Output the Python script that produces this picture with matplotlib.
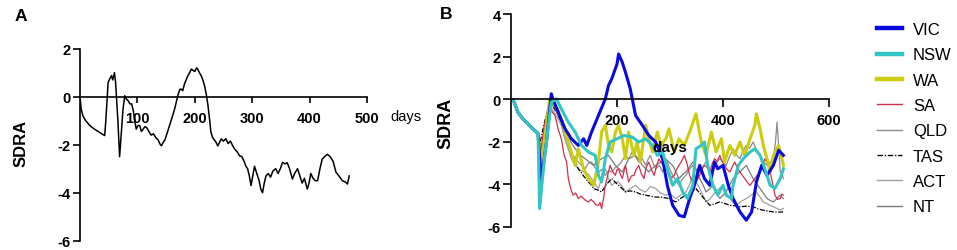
import matplotlib
matplotlib.use("Agg")
import matplotlib.pyplot as plt
from matplotlib.lines import Line2D

plt.rcParams['font.family'] = ['Liberation Sans', 'DejaVu Sans']
plt.rcParams['axes.unicode_minus'] = False

# ---------------- Panel A data ----------------
a_days = [0, 2, 5, 10, 17, 25, 35, 43, 45, 49, 52, 55, 57, 60, 62, 66, 69, 72, 75, 78, 81, 84, 87, 90,
          93, 96, 98, 101, 104, 107, 110, 113, 116, 120, 124, 128, 132, 136, 140, 142, 145, 148, 152,
          156, 160, 165, 168, 171, 174, 176, 179, 182, 185, 188, 191, 194, 197, 200, 203, 205, 208,
          211, 214, 217, 220, 223, 226, 228, 231, 234, 237, 240, 243, 246, 250, 254, 258, 262, 266,
          270, 274, 278, 282, 286, 289, 292, 295, 298, 301, 304, 308, 312, 315, 318, 321, 324, 328,
          332, 336, 341, 345, 349, 353, 357, 361, 365, 370, 374, 379, 383, 387, 391, 396, 399, 402,
          406, 410, 414, 418, 422, 426, 431, 436, 441, 446, 451, 457, 462, 466, 469]
a_vals = [0, -0.5, -0.8, -1.0, -1.2, -1.35, -1.5, -1.62, -1.0, 0.6, 0.75, 0.88, 0.7, 1.0, 0.6, -1.0,
          -2.5, -1.5, -0.5, 0.04, -0.1, -0.17, -0.3, -0.3, -0.6, -1.1, -1.35, -1.2, -1.2, -1.45,
          -1.35, -1.25, -1.28, -1.45, -1.6, -1.55, -1.7, -1.8, -2.0, -2.04, -1.9, -1.8, -1.5, -1.2,
          -0.9, -0.5, -0.2, 0.1, 0.3, 0.32, 0.25, 0.53, 0.7, 0.88, 1.0, 1.15, 1.1, 1.05, 1.2, 1.15,
          1.0, 0.88, 0.7, 0.46, 0.1, -0.37, -1.0, -1.47, -1.7, -1.8, -1.9, -2.05, -1.9, -1.76,
          -1.85, -1.75, -1.95, -1.85, -2.04, -2.2, -2.3, -2.46, -2.5, -2.7, -2.9, -3.0, -3.3, -3.7,
          -3.3, -2.9, -3.2, -3.5, -3.85, -4.0, -3.6, -3.3, -3.2, -3.35, -3.1, -3.0, -3.2, -3.0,
          -2.73, -2.8, -2.75, -3.0, -3.43, -3.2, -3.0, -3.3, -3.6, -3.4, -3.85, -3.6, -3.2, -3.4,
          -3.5, -3.5, -3.0, -2.6, -2.5, -2.4, -2.5, -2.7, -3.15, -3.3, -3.5, -3.55, -3.64, -3.3]

# ---------------- Panel B data ----------------
start_days = [0, 3, 6, 13, 22, 32, 41, 48, 51]
start_vals = [0, 0, -0.13, -0.6, -0.9, -1.14, -1.38, -1.53, -1.6]

vic_days = [57, 67, 76, 79, 89, 102, 114, 127, 137, 143, 152, 165, 178, 184, 190, 200, 203, 210, 216,
            225, 235, 248, 260, 273, 286, 295, 305, 317, 327, 337, 346, 356, 365, 375, 384, 390, 400,
            410, 419, 432, 444, 454, 463, 473, 483, 495, 505, 514]
vic_vals = [-3.8, -2.0, 0.27, 0.03, -0.6, -1.38, -1.85, -2.16, -1.85, -2.16, -1.53, -0.75, 0.03, 0.66,
            0.97, 1.67, 2.14, 1.75, 1.28, 0.5, -0.75, -1.22, -1.69, -2.0, -2.79, -4.04, -4.98, -5.45,
            -5.52, -4.66, -4.04, -3.1, -3.72, -4.04, -2.94, -3.26, -3.1, -4.04, -4.66, -5.29, -5.68,
            -5.29, -3.88, -3.1, -3.57, -3.1, -2.39, -2.63]

nsw_days = [54, 63, 76, 86, 95, 108, 121, 133, 146, 159, 165, 171, 178, 187, 200, 213, 229, 241, 254,
            267, 276, 286, 295, 305, 314, 324, 333, 343, 349, 359, 365, 371, 381, 390, 400, 406, 416,
            419, 429, 438, 451, 460, 470, 479, 489, 498, 508, 514]
nsw_vals = [-5.13, -2.79, -0.13, 0.03, -0.44, -1.06, -1.53, -2.16, -2.47, -2.63, -3.57, -3.88, -2.79,
            -2.0, -1.85, -1.69, -1.77, -2.0, -1.85, -2.16, -2.63, -2.47, -3.26, -4.04, -3.72, -4.35,
            -4.66, -4.04, -2.32, -2.16, -2.0, -3.1, -4.04, -4.5, -4.04, -4.5, -4.66, -4.04, -3.1,
            -2.79, -2.47, -2.32, -2.63, -3.26, -4.04, -4.19, -3.72, -3.26]

wa_days = [57, 73, 83, 95, 108, 121, 127, 137, 146, 156, 165, 171, 178, 184, 190, 197, 203, 210, 216,
           222, 232, 238, 244, 254, 260, 267, 276, 283, 292, 298, 308, 317, 327, 337, 349, 359, 368,
           378, 387, 397, 403, 413, 422, 432, 441, 451, 460, 463, 470, 476, 483, 489, 495, 505, 514]
wa_vals = [-3.1, 0.03, -0.28, -0.91, -2.0, -3.1, -2.32, -3.26, -3.72, -4.04, -2.94, -1.53, -1.22,
           -2.16, -2.47, -1.53, -1.22, -1.85, -2.79, -1.53, -2.63, -2.0, -2.94, -1.22, -1.85, -2.47,
           -1.53, -2.16, -1.85, -1.38, -2.47, -1.85, -2.16, -1.53, -0.67, -2.0, -2.63, -1.53, -2.47,
           -1.85, -2.94, -2.16, -2.63, -2.0, -2.63, -1.85, -1.22, -0.67, -1.38, -2.16, -2.79, -3.41,
           -2.63, -2.16, -3.1]

sa_days = [54, 63, 73, 78, 83, 89, 95, 100, 105, 108, 111, 114, 117, 122, 127, 132, 137, 141, 146,
           151, 156, 160, 165, 168, 171, 175, 178, 183, 187, 192, 197, 200, 203, 206, 210, 213, 216,
           219, 222, 227, 232, 236, 241, 246, 251, 255, 260, 265, 270, 275, 279, 284, 289, 293, 298,
           303, 308, 312, 317, 322, 327, 332, 337, 341, 346, 351, 356, 360, 365, 370, 375, 380, 384,
           389, 394, 398, 403, 408, 413, 417, 422, 427, 432, 436, 441, 446, 451, 455, 460, 465, 470,
           474, 479, 484, 489, 494, 498, 503, 508, 511, 514]
sa_vals = [-2.79, -1.2, -0.28, -0.6, -0.75, -1.4, -1.85, -2.6, -2.94, -3.7, -4.04, -4.3, -4.5, -4.4,
           -4.66, -4.55, -4.66, -4.75, -4.82, -4.7, -4.82, -4.95, -4.98, -4.85, -5.13, -4.6, -4.04,
           -3.5, -3.1, -3.4, -3.57, -3.3, -3.26, -3.5, -3.72, -3.4, -3.1, -3.5, -3.88, -3.6, -3.57,
           -3.3, -3.1, -3.5, -3.72, -3.2, -2.94, -3.3, -3.57, -3.1, -2.79, -3.0, -3.1, -3.3, -3.41,
           -3.7, -3.57, -3.3, -3.1, -2.9, -2.63, -3.0, -3.57, -3.8, -4.04, -3.8, -3.57, -3.3, -3.1,
           -3.2, -3.41, -3.0, -2.79, -2.9, -2.63, -2.9, -3.1, -3.3, -3.41, -3.2, -2.94, -3.2, -3.41,
           -3.55, -3.72, -3.9, -4.04, -3.9, -3.72, -3.55, -3.41, -3.1, -2.79, -3.0, -3.41, -4.0, -4.5,
           -4.7, -4.66, -4.45, -4.5]

qld_days = [57, 65, 73, 80, 89, 95, 102, 108, 114, 120, 127, 133, 140, 146, 152, 158, 165, 171, 178,
            184, 190, 197, 203, 209, 216, 222, 229, 235, 241, 247, 254, 258, 263, 268, 273, 280, 286,
            290, 295, 300, 305, 311, 317, 323, 330, 336, 343, 350, 356, 362, 368, 374, 381, 387, 394,
            400, 406, 412, 419, 425, 432, 438, 444, 450, 457, 463, 470, 476, 483, 489, 495, 499, 502,
            505, 508, 511, 514]
qld_vals = [-2.63, -1.5, -0.13, -0.3, -0.6, -1.2, -1.85, -2.3, -2.63, -2.7, -2.94, -3.1, -3.26, -3.0,
            -2.94, -3.2, -3.41, -3.3, -3.57, -3.35, -3.41, -3.2, -3.1, -2.9, -2.63, -2.8, -2.47, -2.7,
            -2.94, -2.75, -3.1, -2.85, -2.63, -3.0, -3.26, -3.1, -3.41, -3.15, -2.94, -3.3, -3.57,
            -3.8, -4.04, -3.75, -3.57, -3.3, -3.1, -3.3, -3.41, -3.15, -2.94, -3.2, -3.41, -3.0,
            -2.79, -2.95, -3.1, -2.7, -2.32, -2.6, -2.79, -2.4, -2.16, -2.3, -2.0, -2.35, -2.63, -2.9,
            -3.1, -2.95, -2.79, -2.0, -1.06, -2.2, -3.41, -3.5, -3.72]

tas_days = [51, 62, 73, 81, 89, 95, 102, 108, 114, 121, 127, 137, 146, 151, 156, 163, 171, 180, 190,
            197, 203, 210, 216, 225, 235, 244, 254, 263, 273, 285, 298, 305, 311, 320, 330, 340, 349,
            354, 359, 367, 375, 385, 394, 404, 413, 422, 432, 444, 457, 466, 476, 485, 495, 505, 514]
tas_vals = [-2.47, -1.2, -0.13, -0.4, -0.75, -1.1, -1.53, -2.0, -2.47, -2.9, -3.26, -3.6, -3.88, -4.0,
            -4.19, -4.25, -4.35, -4.0, -3.72, -3.9, -4.04, -4.2, -4.35, -4.3, -4.35, -4.45, -4.5,
            -4.55, -4.59, -4.6, -4.66, -4.75, -4.82, -4.65, -4.5, -4.35, -4.19, -4.35, -4.5, -4.75,
            -4.98, -4.9, -4.82, -4.9, -4.98, -5.0, -5.05, -5.02, -5.05, -5.15, -5.21, -5.25, -5.29,
            -5.3, -5.29]

act_days = [54, 63, 73, 84, 95, 101, 108, 114, 121, 129, 137, 145, 152, 158, 165, 171, 178, 184, 190,
            197, 203, 210, 216, 225, 235, 244, 254, 263, 273, 282, 292, 301, 311, 320, 330, 337, 343,
            350, 356, 362, 368, 375, 381, 390, 400, 406, 413, 419, 425, 434, 444, 453, 463, 470, 476,
            483, 489, 495, 502, 508, 514]
act_vals = [-2.94, -1.5, -0.28, -0.7, -1.22, -1.8, -2.32, -2.8, -3.1, -3.3, -3.41, -3.5, -3.72, -3.95,
            -4.19, -3.7, -3.26, -3.7, -4.04, -3.9, -3.88, -4.1, -4.35, -4.2, -4.04, -4.25, -4.35, -4.1,
            -4.19, -4.4, -4.5, -4.45, -4.66, -4.5, -4.35, -4.0, -3.57, -3.9, -4.19, -4.5, -4.82, -4.7,
            -4.5, -4.25, -4.04, -4.4, -4.66, -4.85, -4.98, -4.8, -4.66, -4.5, -4.35, -4.6, -4.82,
            -4.9, -4.98, -5.05, -5.13, -5.2, -5.13]

nt_days = [57, 65, 73, 81, 89, 97, 105, 113, 121, 130, 140, 148, 156, 163, 171, 178, 184, 190, 197,
           203, 210, 216, 222, 229, 235, 241, 248, 254, 260, 266, 273, 282, 292, 298, 305, 311, 317,
           323, 330, 336, 343, 350, 356, 362, 368, 375, 381, 387, 394, 400, 406, 412, 419, 425, 432,
           438, 444, 450, 457, 463, 470, 476, 483, 489, 495, 502, 508, 514]
nt_vals = [-2.79, -1.3, -0.05, -0.2, -0.44, -1.0, -1.53, -2.0, -2.32, -2.6, -2.79, -2.95, -3.1, -2.9,
           -2.79, -2.7, -2.63, -2.85, -3.1, -3.25, -3.41, -3.1, -2.79, -2.7, -2.63, -2.85, -3.1,
           -3.25, -3.41, -3.25, -3.1, -2.95, -2.79, -2.95, -3.1, -3.4, -3.72, -3.55, -3.41, -3.2,
           -2.94, -3.35, -3.72, -4.0, -4.35, -4.2, -4.04, -4.35, -4.66, -4.5, -4.35, -4.05, -3.72,
           -3.55, -3.41, -3.25, -3.1, -3.4, -3.72, -3.95, -4.19, -4.4, -4.66, -4.75, -4.82, -4.65,
           -4.5, -4.66]

labels = ["VIC", "NSW", "WA", "SA", "QLD", "TAS", "ACT", "NT"]

W, H = 957, 251
fig = plt.figure(figsize=(W / 100, H / 100), dpi=100)


def fx(px):
    return px / W


def fy(py):
    return 1 - py / H


# ---------------- Panel A ----------------
axA = fig.add_axes([fx(80), fy(241.7), fx(367) - fx(80), (241.7 - 49.7) / H])
axA.plot(a_days, a_vals, color='black', lw=1.1)
axA.set_xlim(0, 500)
axA.set_ylim(-6, 2)
axA.spines['top'].set_visible(False)
axA.spines['right'].set_visible(False)
axA.spines['bottom'].set_position(('data', 0))
for s in ['left', 'bottom']:
    axA.spines[s].set_linewidth(1.2)
axA.set_xticks([100, 200, 300, 400, 500])
axA.set_yticks([2, 0, -2, -4, -6])
axA.tick_params(axis='x', direction='out', length=4, width=1.2, pad=6)
axA.tick_params(axis='y', direction='out', length=5, width=1.2, pad=1.5)
for t in axA.get_xticklabels() + axA.get_yticklabels():
    t.set_fontsize(10.5)
    t.set_fontweight('bold')
axA.patch.set_alpha(0)

fig.text(fx(406), fy(117), "days", fontsize=10.5, ha='center', va='center')
fig.text(fx(21), fy(143), "SDRA", fontsize=12, fontweight='bold', rotation=90,
         ha='center', va='center')
fig.text(fx(21), fy(17), "A", fontsize=12.5, fontweight='bold', ha='center', va='center')

# ---------------- Panel B ----------------
axB = fig.add_axes([fx(511), fy(228), fx(829) - fx(511), (228 - 15.5) / H])
axB.set_xlim(0, 600)
axB.set_ylim(-6, 4)


def full(d, v):
    return start_days + d, start_vals + v


thin = 0.9
tas_ls = (0, (4, 1.2, 1, 1.2))
lQLD, = axB.plot(*full(qld_days, qld_vals), color='#8c8c8c', lw=thin)
lACT, = axB.plot(*full(act_days, act_vals), color='#a0a0a0', lw=thin)
lNT, = axB.plot(*full(nt_days, nt_vals), color='#7a7a7a', lw=thin)
lTAS, = axB.plot(*full(tas_days, tas_vals), color='black', lw=thin, linestyle=tas_ls)
lSA, = axB.plot(*full(sa_days, sa_vals), color='#d0304a', lw=thin)
lWA, = axB.plot(*full(wa_days, wa_vals), color='#cccc10', lw=2.2)
lVIC, = axB.plot(*full(vic_days, vic_vals), color='#0a0ae0', lw=2.2)
lNSW, = axB.plot(*full(nsw_days, nsw_vals), color='#33c4c4', lw=2.2)

axB.spines['top'].set_visible(False)
axB.spines['right'].set_visible(False)
axB.spines['bottom'].set_position(('data', 0))
for s in ['left', 'bottom']:
    axB.spines[s].set_linewidth(1.2)
axB.set_xticks([200, 400, 600])
axB.set_yticks([4, 2, 0, -2, -4, -6])
axB.tick_params(axis='x', direction='out', length=6, width=1.2, pad=4)
axB.tick_params(axis='y', direction='out', length=6, width=1.2, pad=1.5)
for t in axB.get_xticklabels() + axB.get_yticklabels():
    t.set_fontsize(10.5)
    t.set_fontweight('bold')
axB.patch.set_alpha(0)

fig.text(fx(670), fy(148), "days", fontsize=11, fontweight='bold', ha='center', va='center')
fig.text(fx(446), fy(123), "SDRA", fontsize=13, fontweight='bold', rotation=90,
         ha='center', va='center')
fig.text(fx(446), fy(15), "B", fontsize=12.5, fontweight='bold', ha='center', va='center')

hcols = ['#0a0ae0', '#33c4c4', '#cccc10', '#d0304a', '#8c8c8c', 'black', '#a0a0a0', '#7a7a7a']
hlw = [3.2, 3.2, 3.2, 1.0, 1.0, 1.0, 1.0, 1.0]
hls = ['-', '-', '-', '-', '-', tas_ls, '-', '-']
leg_handles = [Line2D([0], [0], color=c, lw=w, linestyle=ls) for c, w, ls in zip(hcols, hlw, hls)]
fig.legend(leg_handles, labels, loc='upper left', bbox_to_anchor=(fx(877), fy(23)),
           frameon=False, fontsize=12, handlelength=1.5, handletextpad=0.65,
           labelspacing=0.62, borderpad=0, borderaxespad=0)

fig.savefig("out.png", dpi=100)
